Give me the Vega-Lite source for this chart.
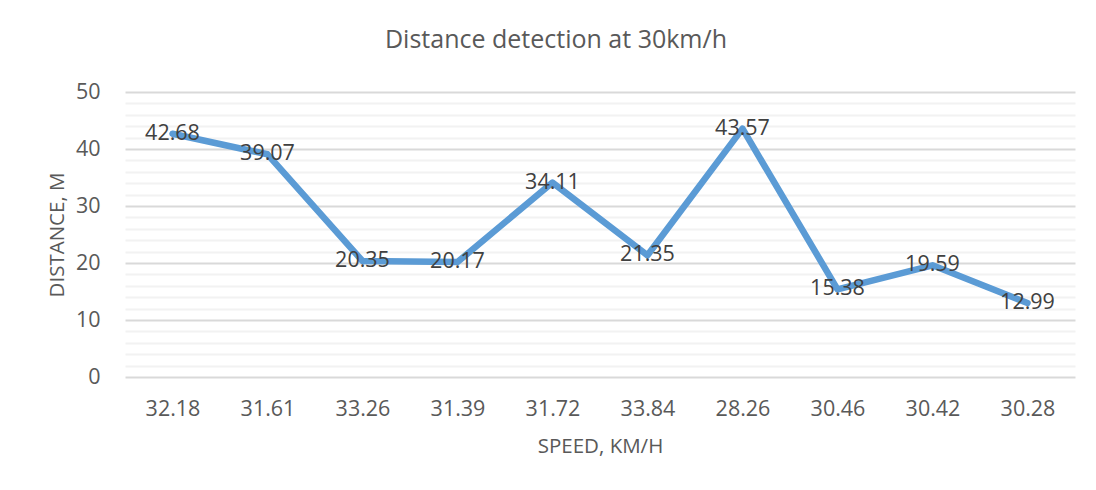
{
  "$schema": "https://vega.github.io/schema/vega-lite/v6.json",
  "autosize": "none",
  "width": 950,
  "height": 285,
  "padding": {"left": 125, "top": 92, "right": 21, "bottom": 113},
  "background": "white",
  "title": {
    "text": "Distance detection at 30km/h",
    "frame": "group",
    "anchor": "middle",
    "dx": -44,
    "offset": 8,
    "baseline": "alphabetic",
    "font": "Open Sans",
    "fontSize": 25,
    "fontWeight": "normal",
    "color": "#595959"
  },
  "config": {
    "view": {"stroke": null},
    "font": "Open Sans"
  },
  "data": {
    "values": [
      {"speed": "32.18", "distance": 42.68},
      {"speed": "31.61", "distance": 39.07},
      {"speed": "33.26", "distance": 20.35},
      {"speed": "31.39", "distance": 20.17},
      {"speed": "31.72", "distance": 34.11},
      {"speed": "33.84", "distance": 21.35},
      {"speed": "28.26", "distance": 43.57},
      {"speed": "30.46", "distance": 15.38},
      {"speed": "30.42", "distance": 19.59},
      {"speed": "30.28", "distance": 12.99}
    ]
  },
  "encoding": {
    "x": {
      "field": "speed",
      "type": "nominal",
      "sort": null,
      "scale": {"type": "point", "padding": 0.5},
      "axis": {
        "title": "SPEED, KM/H",
        "titleFont": "Open Sans",
        "titleFontSize": 20.5,
        "titleFontWeight": "normal",
        "titleColor": "#595959",
        "titleBaseline": "alphabetic",
        "titleX": 475,
        "titleY": 75,
        "labelAngle": 0,
        "labelFont": "Open Sans",
        "labelFontSize": 21.5,
        "labelColor": "#595959",
        "labelPadding": 21,
        "ticks": false,
        "tickSize": 0,
        "domain": false,
        "grid": false
      }
    },
    "y": {
      "field": "distance",
      "type": "quantitative",
      "scale": {"domain": [0, 50], "nice": false, "zero": true},
      "axis": {
        "title": "DISTANCE, M",
        "titleFont": "Open Sans",
        "titleFontSize": 20.5,
        "titleFontWeight": "normal",
        "titleColor": "#595959",
        "titleAngle": -90,
        "titleAlign": "center",
        "titleBaseline": "middle",
        "titleX": -68,
        "titleY": 142.5,
        "values": [0, 2, 4, 6, 8, 10, 12, 14, 16, 18, 20, 22, 24, 26, 28, 30, 32, 34, 36, 38, 40, 42, 44, 46, 48, 50],
        "labelExpr": "datum.value % 10 === 0 ? datum.label : ''",
        "labelFont": "Open Sans",
        "labelFontSize": 21.5,
        "labelColor": "#595959",
        "labelPadding": 25,
        "ticks": false,
        "tickSize": 0,
        "domain": false,
        "grid": true,
        "gridWidth": 2,
        "gridColor": {
          "condition": {"test": "datum.value % 10 === 0", "value": "#D9D9D9"},
          "value": "#F2F2F2"
        }
      }
    }
  },
  "layer": [
    {
      "mark": {
        "type": "line",
        "color": "#5B9BD5",
        "strokeWidth": 6.5,
        "strokeCap": "round",
        "strokeJoin": "round"
      }
    },
    {
      "mark": {
        "type": "text",
        "align": "center",
        "baseline": "middle",
        "font": "Open Sans",
        "fontSize": 21.5,
        "color": "#404040"
      },
      "encoding": {
        "text": {"field": "distance", "type": "quantitative", "format": ".2f"}
      }
    }
  ]
}
